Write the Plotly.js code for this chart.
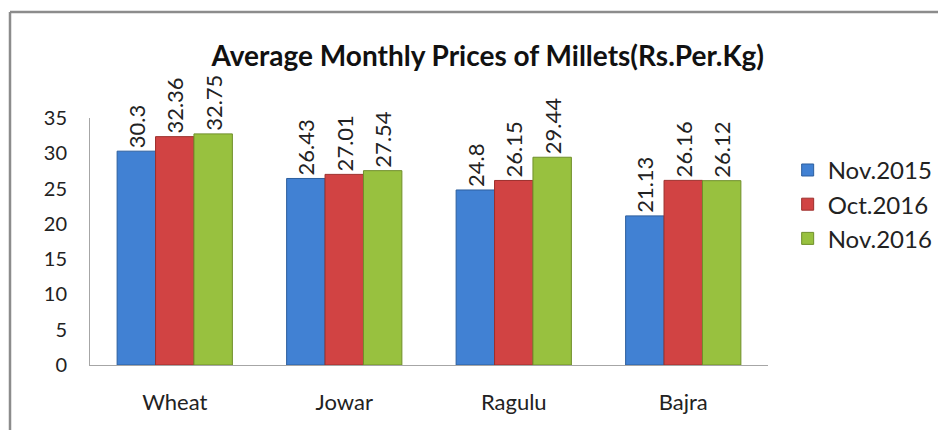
<!DOCTYPE html>
<html>
<head>
<meta charset="utf-8">
<script src="https://cdn.plot.ly/plotly-3.0.1.min.js"></script>
<style>
html,body{margin:0;padding:0;background:#fff;}
#chart{width:938px;height:430px;}
</style>
</head>
<body>
<div id="chart"></div>
<script>
const categories = ["Wheat", "Jowar", "Ragulu", "Bajra"];
const seriesNames = ["Nov.2015", "Oct.2016", "Nov.2016"];
const nov2015 = [30.3, 26.43, 24.8, 21.13];
const oct2016 = [32.36, 27.01, 26.15, 26.16];
const nov2016 = [32.75, 27.54, 29.44, 26.12];
const yTicks = [0, 5, 10, 15, 20, 25, 30, 35];

const values = [nov2015, oct2016, nov2016];
const fills = ["#4181d3", "#d14343", "#98c13f"];
const edges = ["#2d5f9e", "#9c2f2c", "#6f8f2a"];
const FONT = "Lato, 'Open Sans', sans-serif";

const traces = values.map((v, i) => ({
  type: "bar",
  name: seriesNames[i],
  x: categories,
  y: v,
  text: v.map(String),
  textposition: "outside",
  textangle: -90,
  constraintext: "none",
  cliponaxis: false,
  textfont: {family: FONT, size: 22, color: "#222"},
  marker: {color: fills[i], line: {color: edges[i], width: 1}}
}));

const layout = {
  width: 938,
  height: 430,
  margin: {l: 90, r: 170, t: 118, b: 65, autoexpand: false},
  paper_bgcolor: "#fff",
  plot_bgcolor: "#fff",
  font: {family: FONT, color: "#222"},
  title: {
    text: "<b>Average Monthly Prices of Millets(Rs.Per.Kg)</b>",
    font: {family: FONT, size: 28, color: "#111"},
    x: 0.52, xanchor: "center",
    y: 1 - 56/430, yanchor: "middle"
  },
  barmode: "group",
  bargap: 0.32,
  bargroupgap: 0,
  xaxis: {
    showline: true, linecolor: "#a6a6a6", linewidth: 1,
    ticks: "", showgrid: false, zeroline: false,
    tickfont: {family: FONT, size: 22, color: "#222"},
    ticklabelstandoff: 18
  },
  yaxis: {
    range: [0, 35],
    tickvals: yTicks,
    showline: true, linecolor: "#a6a6a6", linewidth: 1,
    ticks: "", showgrid: false, zeroline: false,
    tickfont: {family: FONT, size: 20, color: "#222"},
    ticklabelstandoff: 18
  },
  legend: {
    x: 1.029, xanchor: "left",
    y: 0.879, yanchor: "top",
    font: {family: FONT, size: 24, color: "#222"},
    bgcolor: "rgba(0,0,0,0)",
    itemwidth: 30
  },
  shapes: [
    {type: "line", xref: "paper", yref: "paper",
     x0: (10-90)/678, x1: (945-90)/678, y0: (365-12)/247, y1: (365-12)/247,
     line: {color: "#8c8c8c", width: 2.5}},
    {type: "line", xref: "paper", yref: "paper",
     x0: (10-90)/678, x1: (10-90)/678, y0: (365-12)/247, y1: (365-440)/247,
     line: {color: "#8c8c8c", width: 2.5}}
  ],
  showlegend: true
};

Plotly.newPlot("chart", traces, layout, {displayModeBar: false, staticPlot: true});
</script>
</body>
</html>
